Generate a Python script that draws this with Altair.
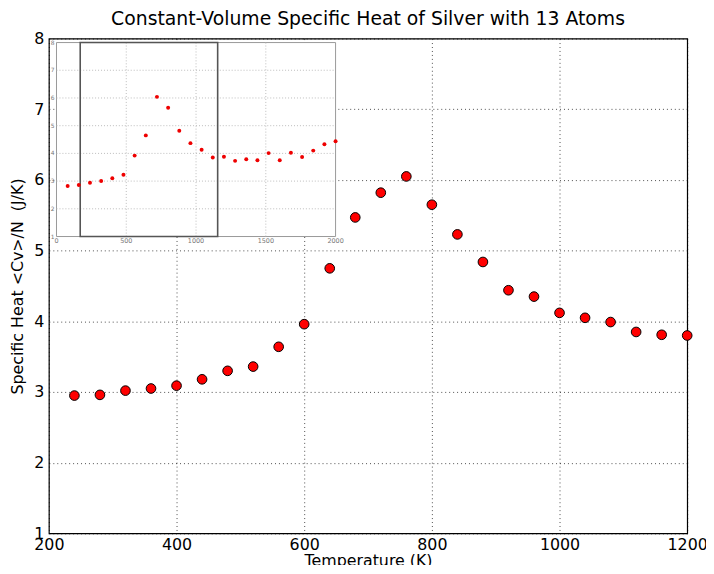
import altair as alt
import pandas as pd

# ---- data ----
temps = [240, 280, 320, 360, 400, 440, 480, 520, 560, 600, 640, 680, 720,
         760, 800, 840, 880, 920, 960, 1000, 1040, 1080, 1120, 1160, 1200]
cv = [2.95, 2.96, 3.02, 3.05, 3.09, 3.18, 3.30, 3.36, 3.64, 3.96, 4.75, 5.47, 5.82,
      6.05, 5.65, 5.23, 4.84, 4.44, 4.35, 4.12, 4.05, 3.99, 3.85, 3.81, 3.80]

inset_temps = [80, 160, 240, 320, 400, 480, 560, 640, 720, 800, 880, 960, 1040,
               1120, 1200, 1280, 1360, 1440, 1520, 1600, 1680, 1760, 1840, 1920, 2000]
inset_cv = [2.82, 2.86, 2.94, 3.00, 3.10, 3.23, 3.92, 4.65, 6.04, 5.65, 4.82, 4.37, 4.13,
            3.85, 3.88, 3.73, 3.79, 3.75, 4.01, 3.75, 4.02, 3.87, 4.10, 4.33, 4.44]

inset_xdomain = [0, 2000]
inset_ydomain = [1, 8]
inset_box_x = [170, 1155]
inset_xgrid = [500, 1000, 1500]
inset_ygrid = [2, 3, 4, 5, 6, 7]
inset_xticks = [0, 500, 1000, 1500, 2000]
inset_yticks = [1, 2, 3, 4, 5, 6, 7, 8]

x_ticks = [200, 400, 600, 800, 1000, 1200]
y_ticks = [1, 2, 3, 4, 5, 6, 7, 8]

FONT = "DejaVu Sans"
W, H = 645, 500

main_df = pd.DataFrame({"T": temps, "Cv": cv})
inset_df = pd.DataFrame({"T": inset_temps, "Cv": inset_cv})
frame_df = pd.DataFrame({"x0": [inset_xdomain[0]], "x1": [inset_xdomain[1]],
                         "y0": [inset_ydomain[0]], "y1": [inset_ydomain[1]]})
box_df = pd.DataFrame({"x0": [inset_box_x[0]], "x1": [inset_box_x[1]],
                       "y0": [inset_ydomain[0]], "y1": [inset_ydomain[1]]})
xg_df = pd.DataFrame({"g": inset_xgrid, "y0": inset_ydomain[0], "y1": inset_ydomain[1]})
yg_df = pd.DataFrame({"g": inset_ygrid, "x0": inset_xdomain[0], "x1": inset_xdomain[1]})
xlab_df = pd.DataFrame({"v": inset_xticks, "y": inset_ydomain[0],
                        "t": [str(v) for v in inset_xticks]})
ylab_df = pd.DataFrame({"v": inset_yticks, "x": inset_xdomain[0],
                        "t": [str(v) for v in inset_yticks]})

# ---- main chart ----
main = alt.Chart(main_df).mark_point(
    shape="circle", filled=True, fill="#ff0000", stroke="black",
    strokeWidth=1, size=95, opacity=1
).encode(
    x=alt.X("T:Q", scale=alt.Scale(domain=[200, 1200], nice=False, zero=False),
            axis=alt.Axis(values=x_ticks, title="Temperature (K)", format="d",
                          labelPadding=3, titlePadding=0)),
    y=alt.Y("Cv:Q", scale=alt.Scale(domain=[1, 8], nice=False, zero=False),
            axis=alt.Axis(values=y_ticks, title="Specific Heat <Cv>/N \u00a0(J/K)", format="d",
                          labelPadding=5, titlePadding=8)),
)

# ---- inset (own scales mapped onto a sub-rectangle of the plot) ----
ix = alt.Scale(domain=inset_xdomain, range=[7.7, 289.7], nice=False, zero=False)
iy = alt.Scale(domain=inset_ydomain, range=[200, 4], nice=False, zero=False)

inset_bg = alt.Chart(frame_df).mark_rect(
    fill="white", stroke="#999999", strokeWidth=1
).encode(
    x=alt.X("x0:Q", scale=ix, axis=None), x2="x1:Q",
    y=alt.Y("y0:Q", scale=iy, axis=None), y2="y1:Q",
)
inset_xgrid_layer = alt.Chart(xg_df).mark_rule(
    color="#b5b5b5", strokeWidth=0.9, strokeDash=[1, 2]
).encode(
    x=alt.X("g:Q", scale=ix, axis=None),
    y=alt.Y("y0:Q", scale=iy, axis=None), y2="y1:Q",
)
inset_ygrid_layer = alt.Chart(yg_df).mark_rule(
    color="#b5b5b5", strokeWidth=0.9, strokeDash=[1, 2]
).encode(
    x=alt.X("x0:Q", scale=ix, axis=None), x2="x1:Q",
    y=alt.Y("g:Q", scale=iy, axis=None),
)
inset_box = alt.Chart(box_df).mark_rect(
    fill=None, fillOpacity=0, stroke="#555555", strokeWidth=1.6
).encode(
    x=alt.X("x0:Q", scale=ix, axis=None), x2="x1:Q",
    y=alt.Y("y0:Q", scale=iy, axis=None), y2="y1:Q",
)
inset_pts = alt.Chart(inset_df).mark_point(
    shape="circle", filled=True, fill="#ee0000", strokeWidth=0, size=16, opacity=1
).encode(
    x=alt.X("T:Q", scale=ix, axis=None),
    y=alt.Y("Cv:Q", scale=iy, axis=None),
)
inset_xlabels = alt.Chart(xlab_df).mark_text(
    font=FONT, fontSize=6.5, color="#777777", baseline="top", align="center", dy=2
).encode(
    x=alt.X("v:Q", scale=ix, axis=None),
    y=alt.Y("y:Q", scale=iy, axis=None),
    text="t:N",
)
inset_ylabels = alt.Chart(ylab_df).mark_text(
    font=FONT, fontSize=6, color="#777777", baseline="middle", align="right", dx=-2
).encode(
    x=alt.X("x:Q", scale=ix, axis=None),
    y=alt.Y("v:Q", scale=iy, axis=None),
    text="t:N",
)

inset = alt.layer(inset_bg, inset_xgrid_layer, inset_ygrid_layer, inset_box,
                  inset_pts, inset_xlabels, inset_ylabels)

chart = alt.layer(main, inset).resolve_scale(
    x="independent", y="independent"
).properties(
    width=W, height=H,
    autosize=alt.AutoSizeParams(type="none"),
    padding={"left": 41.3, "top": 28, "right": 19, "bottom": 29},
    title=alt.Title("Constant-Volume Specific Heat of Silver with 13 Atoms",
                    fontSize=19, font=FONT, fontWeight="normal", color="black",
                    anchor="middle", frame="group", baseline="alphabetic", offset=-13),
).configure_view(
    stroke="black", strokeWidth=1.2
).configure_axis(
    labelFont=FONT, titleFont=FONT, labelColor="black", titleColor="black",
    labelFontSize=16, titleFontSize=16, titleFontWeight="normal",
    grid=True, gridColor="black", gridOpacity=1, gridWidth=0.7, gridDash=[1, 3],
    domain=False, ticks=False, labelFlush=False, labelOverlap=False,
)

chart.save("out.html", embed_options={"renderer": "svg", "actions": False})
